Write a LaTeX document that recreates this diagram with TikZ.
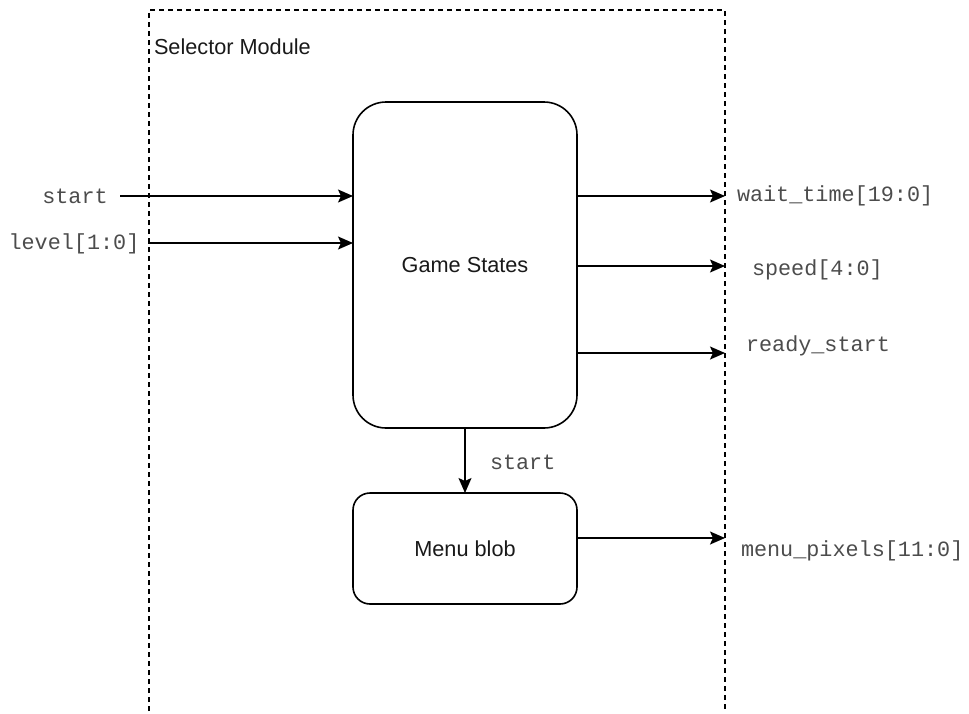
\documentclass[tikz,border=0pt]{standalone}
\usepackage{fontspec}
\setmainfont{Liberation Sans}
\newfontfamily\monofont{Liberation Mono}
\usetikzlibrary{arrows.meta}
\begin{document}
\begin{tikzpicture}[x=1pt,y=-1pt,
  every node/.style={inner sep=0pt, outer sep=0pt},
  sans/.style={font=\fontsize{21.7}{26}\selectfont, text=black!90},
  mono/.style={font=\monofont\fontsize{21.8}{26}\selectfont, text=black!70},
  block/.style={draw=black, line width=1.6pt, rectangle, sans},
  conn/.style={line width=1.6pt, -{Stealth[length=15pt,width=13pt,inset=3pt]}},
  frame/.style={line width=1.3pt, dash pattern=on 5pt off 4pt}
]
\useasboundingbox (0,0) rectangle (969,713);
% module frame
\draw[frame] (149,711) -- (149,10) -- (725,10) -- (725,711);
\node[sans, anchor=west] (title) at (154,47) {Selector Module};

% blocks
\node[block, rounded corners=33pt, minimum width=224pt, minimum height=326pt] (gs) at (465,265) {Game States};
\node[block, rounded corners=17pt, minimum width=224pt, minimum height=111pt] (mb) at (465,548.5) {Menu blob};

% inputs
\node[mono, anchor=center] (instart) at (75,196) {start};
\node[mono, anchor=center] (inlevel) at (74,244) {level[1:0]};
\coordinate (sA) at (120,196);
\coordinate (lA) at (148,243);
\draw[conn] (sA) -- (gs.west |- sA);
\draw[conn] (lA) -- (gs.west |- lA);

% outputs
\coordinate (o1) at (725,196);
\coordinate (o2) at (725,266);
\coordinate (o3) at (725,353);
\coordinate (o4) at (725,538);
\draw[conn] (gs.east |- o1) -- (o1);
\draw[conn] (gs.east |- o2) -- (o2);
\draw[conn] (gs.east |- o3) -- (o3);
\draw[conn] (mb.east |- o4) -- (o4);
\node[mono, anchor=west] (wt) at (737,196) {wait\_time[19:0]};
\node[mono, anchor=west] (sp) at (752,270) {speed[4:0]};
\node[mono, anchor=west] (rs) at (746,346) {ready\_start};
\node[mono, anchor=west] (mp) at (741,551) {menu\_pixels[11:0]};

% internal
\draw[conn] (gs.south) -- (mb.north);
\node[mono, anchor=west] (st2) at (490,462) {start};
\end{tikzpicture}
\end{document}
